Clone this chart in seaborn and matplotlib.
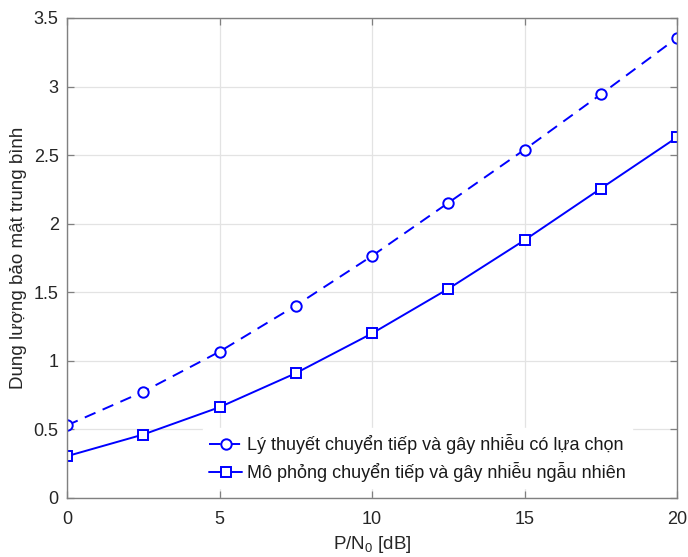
import matplotlib
matplotlib.use("Agg")
import matplotlib.pyplot as plt
import seaborn as sns
import pandas as pd

# Secrecy capacity vs. transmit SNR
snr_db = [0, 2.5, 5, 7.5, 10, 12.5, 15, 17.5, 20]
theory_selective = [0.53, 0.775, 1.067, 1.403, 1.765, 2.152, 2.54, 2.943, 3.355]
sim_random = [0.305, 0.463, 0.662, 0.91, 1.20, 1.525, 1.88, 2.256, 2.63]

label_theory = "Lý thuyết chuyển tiếp và gây nhiễu có lựa chọn"
label_sim = "Mô phỏng chuyển tiếp và gây nhiễu ngẫu nhiên"
x_ticks = [0, 5, 10, 15, 20]
y_ticks = [0, 0.5, 1, 1.5, 2, 2.5, 3, 3.5]
y_tick_labels = ["0", "0.5", "1", "1.5", "2", "2.5", "3", "3.5"]

sns.set_theme(style="whitegrid")
plt.rcParams["font.family"] = ["Liberation Sans", "DejaVu Sans"]
plt.rcParams["mathtext.default"] = "regular"

df_theory = pd.DataFrame({"snr": snr_db, "cap": theory_selective})
df_sim = pd.DataFrame({"snr": snr_db, "cap": sim_random})

fig = plt.figure(figsize=(6.88, 5.57), dpi=100)
ax = fig.add_axes([67 / 688, (557 - 498) / 557, 610 / 688, 480 / 557])

blue = "#0000ff"
sns.lineplot(data=df_theory, x="snr", y="cap", ax=ax, color=blue, lw=1.4,
             marker="o", markersize=7.5, markerfacecolor="white",
             markeredgecolor=blue, markeredgewidth=1.4, label=label_theory)
ax.lines[-1].set_dashes([6, 4])
sns.lineplot(data=df_sim, x="snr", y="cap", ax=ax, color=blue, lw=1.4,
             marker="s", markersize=7.5, markerfacecolor="white",
             markeredgecolor=blue, markeredgewidth=1.4, label=label_sim)

ax.set_xlim(0, 20)
ax.set_ylim(0, 3.5)
ax.set_xticks(x_ticks)
ax.set_xticklabels([str(v) for v in x_ticks])
ax.set_yticks(y_ticks)
ax.set_yticklabels(y_tick_labels)

ax.set_facecolor("white")
ax.grid(True, color="#e3e3e3", lw=0.9)
for side in ["left", "right", "top", "bottom"]:
    ax.spines[side].set_visible(True)
    ax.spines[side].set_color("#808080")
    ax.spines[side].set_linewidth(1.0)
ax.tick_params(axis="both", which="both", direction="in", length=5,
               width=0.9, color="#808080", labelsize=13, labelcolor="#262626",
               top=True, right=True, bottom=True, left=True)
ax.tick_params(axis="x", pad=9)
ax.tick_params(axis="y", pad=6)

ax.set_xlabel("P/N$_0$ [dB]", fontsize=13.5, color="#262626", labelpad=5)
ax.set_ylabel("Dung lượng bảo mật trung bình", fontsize=13.5, color="#262626",
              labelpad=5)

leg = ax.legend(loc="lower left", bbox_to_anchor=(0.223, 0.02),
                borderaxespad=0, frameon=True, fancybox=False,
                facecolor="white", edgecolor="white", framealpha=1,
                fontsize=13, handlelength=1.8, handletextpad=0.3,
                labelspacing=0.45, borderpad=0.35)
for t in leg.get_texts():
    t.set_color("#1a1a1a")

fig.savefig("out.png", dpi=100)
